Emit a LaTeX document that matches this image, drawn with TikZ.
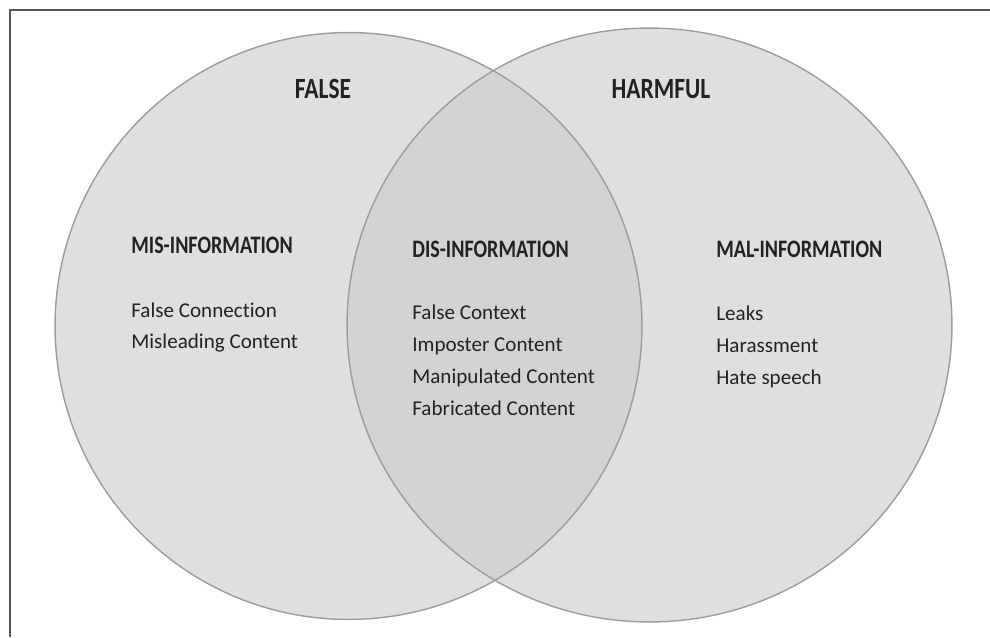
\documentclass[tikz,border=0pt]{standalone}
\usepackage{fontspec}
\setmainfont[Ligatures=NoCommon]{Carlito}
\newfontfamily\headfont[FakeStretch=0.8, Ligatures=NoCommon]{Carlito}
\usetikzlibrary{positioning}

\definecolor{setfill}{HTML}{DEDFE1}
\definecolor{lensfill}{HTML}{D2D3D5}
\definecolor{setline}{HTML}{9C9C9C}
\definecolor{frameline}{HTML}{555555}
\definecolor{inktext}{HTML}{222222}

\begin{document}
\begin{tikzpicture}[x=0.02cm, y=-0.02cm,
    setname/.style={font=\headfont\bfseries\fontsize{16.7}{20}\selectfont, text=inktext, inner sep=0pt, anchor=base},
    heading/.style={font=\headfont\bfseries\fontsize{14.3}{17}\selectfont, text=inktext, inner sep=0pt, anchor=base west},
    items/.style={font=\fontsize{12}{18}\selectfont, text=inktext, inner sep=0pt, anchor=base west},
    setshape/.style={draw=setline, line width=0.8pt}]
    \useasboundingbox (0,0) rectangle (990,637);
    \coordinate (falsec) at (348.5,326);
    \coordinate (harmc) at (649.5,325);
    % the two sets and their overlap
    \fill[setfill] (falsec) circle[radius=5.87cm];
    \fill[setfill] (harmc) ellipse[x radius=6.05cm, y radius=5.94cm];
    \begin{scope}
      \clip (falsec) circle[radius=5.87cm];
      \fill[lensfill] (harmc) ellipse[x radius=6.05cm, y radius=5.94cm];
    \end{scope}
    \draw[setshape] (falsec) circle[radius=5.87cm];
    \draw[setshape] (harmc) ellipse[x radius=6.05cm, y radius=5.94cm];
    % frame
    \draw[frameline, line width=1.1pt] (10,637) -- (10,10) -- (990,10);
    % labels
    \node[setname] (false) at (323,98) {FALSE};
    \node[setname] (harmful) at (661,98) {HARMFUL};
    \node[heading] (mis) at (131,253) {MIS-INFORMATION};
    \node[heading] (dis) at (412,257) {DIS-INFORMATION};
    \node[heading] (mal) at (716,257) {MAL-INFORMATION};
    % one line per item, 32px apart
    \foreach \txt [count=\i from 0] in {False Connection, Misleading Content}
      \node[items] (mis-\i) at (131,317+31*\i) {\txt};
    \foreach \txt [count=\i from 0] in {False Context, Imposter Content, Manipulated Content, Fabricated Content}
      \node[items] (dis-\i) at (412,319+32*\i) {\txt};
    \foreach \txt [count=\i from 0] in {Leaks, Harassment, Hate speech}
      \node[items] (mal-\i) at (716,320+32*\i) {\txt};
\end{tikzpicture}
\end{document}
